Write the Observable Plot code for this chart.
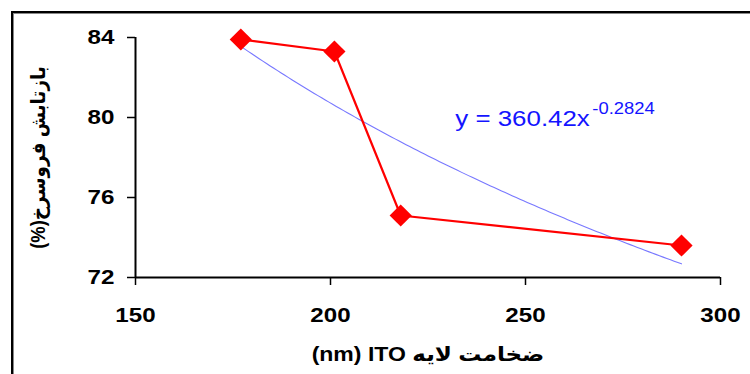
<!DOCTYPE html>
<html>
<head>
<meta charset="utf-8">
<script src="https://cdn.jsdelivr.net/npm/d3@7"></script>
<script src="https://cdn.jsdelivr.net/npm/@observablehq/plot@0.6"></script>
<style>
  html, body { margin: 0; padding: 0; background: #fff; }
  #chart { position: relative; width: 750px; height: 374px; overflow: hidden; }
  #chart svg { position: absolute; left: 0; top: 0; }
  #chart .outline {
    position: absolute; left: 11px; top: 11px; width: 800px; height: 420px;
    border-top: 2px solid #000; border-left: 2px solid #000;
    box-shadow: inset 1px 1px 0 #888;
    pointer-events: none;
  }
</style>
</head>
<body>
<div id="chart"><div class="outline"></div></div>
<script>
// ITO layer thickness (nm) and infrared reflectance (%)
const thickness = [177, 201, 218, 290];
const reflectance = [83.9, 83.3, 75.1, 73.6];

// axis ticks
const xTicks = [150, 200, 250, 300];
const yTicks = [72, 76, 80, 84];

// power-law trend line y = a * x^b
const fitA = 360.42;
const fitB = -0.2824;
const fitLabel = "y = 360.42x";
const fitExpLabel = "-0.2824";

// axis titles (written in display order)
const xTitle = "(nm) ITO ضخامت لایه";
const yTitle = "(%)بازتابش فروسرخ";

const points = thickness.map((x, i) => ({x, y: reflectance[i]}));
const x0 = d3.min(thickness), x1 = d3.max(thickness);
const trend = d3.range(0, 121).map(i => {
  const x = x0 + (x1 - x0) * i / 120;
  return {x, y: fitA * Math.pow(x, fitB)};
});

const font = "'Liberation Sans', Arial, 'DejaVu Sans', sans-serif";

const chart = Plot.plot({
  width: 750,
  height: 374,
  marginLeft: 135,
  marginRight: 30,
  marginTop: 37,
  marginBottom: 97,
  style: {fontFamily: font, fontWeight: "bold", fontSize: "21px", color: "#000", background: "transparent", overflow: "visible"},
  x: {domain: [150, 300]},
  y: {domain: [72, 84]},
  marks: [
    Plot.axisX({ticks: xTicks, tickSize: 8, tickPadding: 22, label: null, fontSize: 21, tickFormat: d => String(d), strokeWidth: 1.5}),
    Plot.axisY({ticks: yTicks, tickSize: 8, tickPadding: 13, label: null, fontSize: 21, tickFormat: d => String(d), strokeWidth: 1.5}),
    Plot.ruleY([72], {stroke: "#000", strokeWidth: 2}),
    Plot.ruleX([150], {y1: 72, y2: 84, stroke: "#000", strokeWidth: 2}),
    Plot.line(trend, {x: "x", y: "y", stroke: "#7878ff", strokeWidth: 1.1}),
    Plot.line(points, {x: "x", y: "y", stroke: "#ff0000", strokeWidth: 2.2}),
    Plot.dot(points, {x: "x", y: "y", symbol: "diamond2", r: 10, fill: "#ff0000", stroke: "none"}),
    Plot.text([fitLabel], {x: 232, y: 79.95, text: d => d, textAnchor: "start", lineAnchor: "middle",
      fill: "#1414ff", fontSize: 22.5, fontWeight: "normal"}),
    Plot.text([fitExpLabel], {x: 232, y: 79.95, dx: 137, dy: -10, text: d => d, textAnchor: "start", lineAnchor: "middle",
      fill: "#1414ff", fontSize: 16, fontWeight: "normal"}),
    Plot.text([xTitle], {frameAnchor: "bottom", dy: 77, text: d => d, textAnchor: "middle", lineAnchor: "middle",
      fontSize: 20, fontWeight: "bold"}),
    Plot.text([yTitle], {frameAnchor: "left", dx: -97, rotate: -90, text: d => d, textAnchor: "middle", lineAnchor: "middle",
      fontSize: 20, fontWeight: "bold"})
  ]
});

document.getElementById("chart").prepend(chart);

// horizontal lettering is drawn a little wide; the vertical title a little condensed
const STRETCH = 1.15;
const Y_TITLE_SCALE = 0.92;
d3.select(chart).selectAll("text").each(function() {
  const k = this.textContent === yTitle ? Y_TITLE_SCALE : STRETCH;
  const w = this.getComputedTextLength();
  if (w > 0) {
    this.setAttribute("textLength", (w * k).toFixed(1));
    this.setAttribute("lengthAdjust", "spacingAndGlyphs");
  }
});
</script>
</body>
</html>
